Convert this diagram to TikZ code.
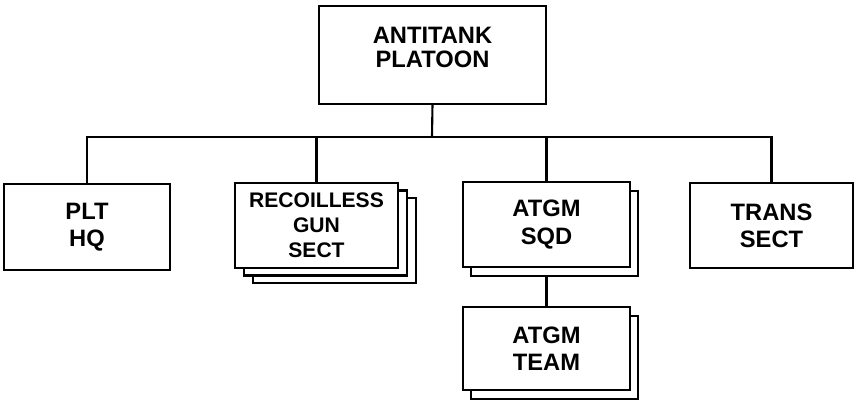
\documentclass[tikz,border=0pt]{standalone}
\usepackage{fontspec}
\setmainfont{Liberation Sans}
\usetikzlibrary{shadows}

\begin{document}
\begin{tikzpicture}[
  unit/.style={draw, line width=1.2pt, fill=white, inner sep=0pt, outer sep=0pt,
    align=center, font=\fontsize{13.5}{15.5}\selectfont\bfseries},
  onecopy/.style={copy shadow={shadow xshift=0.16cm, shadow yshift=-0.18cm,
    opacity=1, fill=white, draw=black, line width=1.2pt}},
  twocopy/.style={copy shadow={shadow xshift=0.36cm, shadow yshift=-0.30cm,
    opacity=1, fill=white, draw=black, line width=1.2pt},
    copy shadow={shadow xshift=0.18cm, shadow yshift=-0.15cm,
    opacity=1, fill=white, draw=black, line width=1.2pt}}
]
  \useasboundingbox (0,0) rectangle (17.08,8.04);
  % platoon and its sections
  \node[unit, minimum width=4.54cm, minimum height=1.96cm, text depth=0.3cm,
    font=\fontsize{13.5}{13.5}\selectfont\bfseries] (atplt) at (8.65,6.94) {ANTITANK\\PLATOON};
  \node[unit, minimum width=3.32cm, minimum height=1.72cm] (plthq) at (1.74,3.50) {PLT\\HQ};
  \node[unit, twocopy, minimum width=3.26cm, minimum height=1.70cm,
    font=\fontsize{12}{14.2}\selectfont\bfseries] (rgsect) at (6.33,3.53) {RECOILLESS\\GUN\\SECT};
  \node[unit, onecopy, minimum width=3.34cm, minimum height=1.70cm] (atsqd) at (10.93,3.55) {ATGM\\SQD};
  \node[unit, minimum width=3.26cm, minimum height=1.70cm] (trsect) at (15.43,3.53) {TRANS\\SECT};
  \node[unit, onecopy, minimum width=3.34cm, minimum height=1.66cm] (atteam) at (10.93,1.07) {ATGM\\TEAM};
  % connectors
  \coordinate (bus) at (8.64,5.30);
  \draw[line width=1.2pt] (atplt.south) -- (bus);
  \foreach \u in {plthq,rgsect,atsqd,trsect} {\draw[line width=1.2pt] (bus) -| (\u.north);}
  \draw[line width=1.2pt] ([yshift=-0.18cm]atsqd.south) -- (atteam.north);
\end{tikzpicture}
\end{document}
